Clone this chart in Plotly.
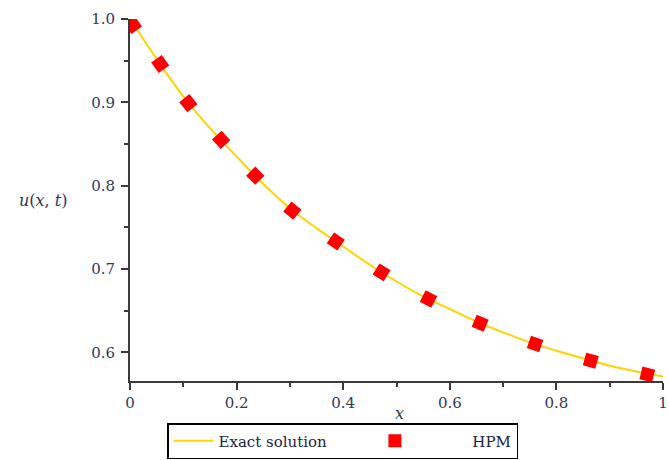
import numpy as np
import plotly.graph_objects as go

# Exact solution curve
x_exact = [0.0, 0.05, 0.1, 0.15, 0.2, 0.25, 0.3, 0.35, 0.4, 0.45, 0.5,
           0.55, 0.6, 0.65, 0.7, 0.75, 0.8, 0.85, 0.9, 0.95, 1.0]
u_exact = [1.0, 0.952, 0.907, 0.869, 0.835, 0.802, 0.773, 0.749, 0.727, 0.705, 0.685,
           0.667, 0.652, 0.637, 0.624, 0.612, 0.602, 0.593, 0.584, 0.577, 0.571]

# HPM points
x_hpm = [0.0055, 0.0567, 0.1095, 0.171, 0.235, 0.3046, 0.386, 0.472, 0.560,
         0.657, 0.760, 0.8645, 0.9705]
u_hpm = [0.993, 0.946, 0.899, 0.855, 0.812, 0.770, 0.733, 0.696, 0.664,
         0.635, 0.610, 0.590, 0.5735]

W, H = 669, 460
ML, MR, MT, MB = 130, 6, 19, 79
XR = [0.0, 1.0]
YR = [0.5656, 1.0]

# marker rotation along the curve tangent (in pixel space)
pw = W - ML - MR
ph = H - MT - MB
px = np.array(x_hpm) * pw / (XR[1] - XR[0])
py = np.array(u_hpm) * ph / (YR[1] - YR[0])
ang = np.degrees(np.arctan2(-np.gradient(py), np.gradient(px)))
ang = [float(a) for a in ang]

tickfont = dict(family="DejaVu Serif", size=15, color="#2e3a58")
NB = "\u00a0"

fig = go.Figure()
fig.add_trace(go.Scatter(
    x=x_exact, y=u_exact, mode="lines", name="Exact solution" + NB * 8,
    line=dict(color="#ffd400", width=2, shape="spline"),
))
fig.add_trace(go.Scatter(
    x=x_hpm, y=u_hpm, mode="markers", showlegend=False,
    marker=dict(symbol="square", size=13, color="#ff0000", angle=ang,
                line=dict(width=0)),
))
# legend entry for HPM (axis-aligned rectangle as in the reference)
fig.add_trace(go.Scatter(
    x=[None], y=[None], mode="markers",
    name=NB * 11 + "HPM",
    marker=dict(symbol="square", size=13, color="#ff0000", line=dict(width=0)),
))

axis_common = dict(
    showgrid=False, zeroline=False, showline=True, linecolor="#3a3a3a", linewidth=2,
    ticks="outside", ticklen=7, tickwidth=1.5, tickcolor="#3a3a3a",
    tickfont=tickfont, ticklabeloverflow="allow",
)
fig.update_xaxes(range=XR, tickvals=[0, 0.2, 0.4, 0.6, 0.8, 1.0],
                 ticktext=["0", "0.2", "0.4", "0.6", "0.8", "1"],
                 minor=dict(ticks="outside", ticklen=4, tickwidth=1.5, tickcolor="#3a3a3a",
                            tickvals=[0.1, 0.3, 0.5, 0.7, 0.9]),
                 **axis_common)
fig.update_yaxes(range=YR, tickvals=[0.6, 0.7, 0.8, 0.9, 1.0],
                 ticktext=["0.6", "0.7", "0.8", "0.9", "1.0"],
                 ticklabelstandoff=3,
                 minor=dict(ticks="outside", ticklen=4, tickwidth=1.5, tickcolor="#3a3a3a",
                            tickvals=[0.65, 0.75, 0.85, 0.95]),
                 **axis_common)

fig.add_annotation(text="<i>u</i>(<i>x</i>, <i>t</i>)", xref="paper", yref="paper",
                   x=(43 - ML) / pw, y=(H - MB - 200) / ph, showarrow=False,
                   xanchor="center", yanchor="middle",
                   font=dict(family="DejaVu Serif", size=16, color="#2e3a58"))
fig.add_annotation(text="<i>x</i>", xref="paper", yref="paper",
                   x=(399 - ML) / pw, y=(H - MB - 413) / ph, showarrow=False,
                   xanchor="center", yanchor="middle",
                   font=dict(family="DejaVu Serif", size=16, color="#2e3a58"))

fig.update_layout(
    width=W, height=H, margin=dict(l=ML, r=MR, t=MT, b=MB, autoexpand=False),
    plot_bgcolor="white", paper_bgcolor="white",
    showlegend=True,
    legend=dict(orientation="h", xref="container", yref="container",
                x=167 / W, y=(H - 459) / H,
                xanchor="left", yanchor="bottom",
                bordercolor="black", borderwidth=1.5, bgcolor="white",
                font=dict(family="DejaVu Serif", size=15, color="#1a2340"),
                itemwidth=40, tracegroupgap=0),
)

fig.write_html("out.html")
